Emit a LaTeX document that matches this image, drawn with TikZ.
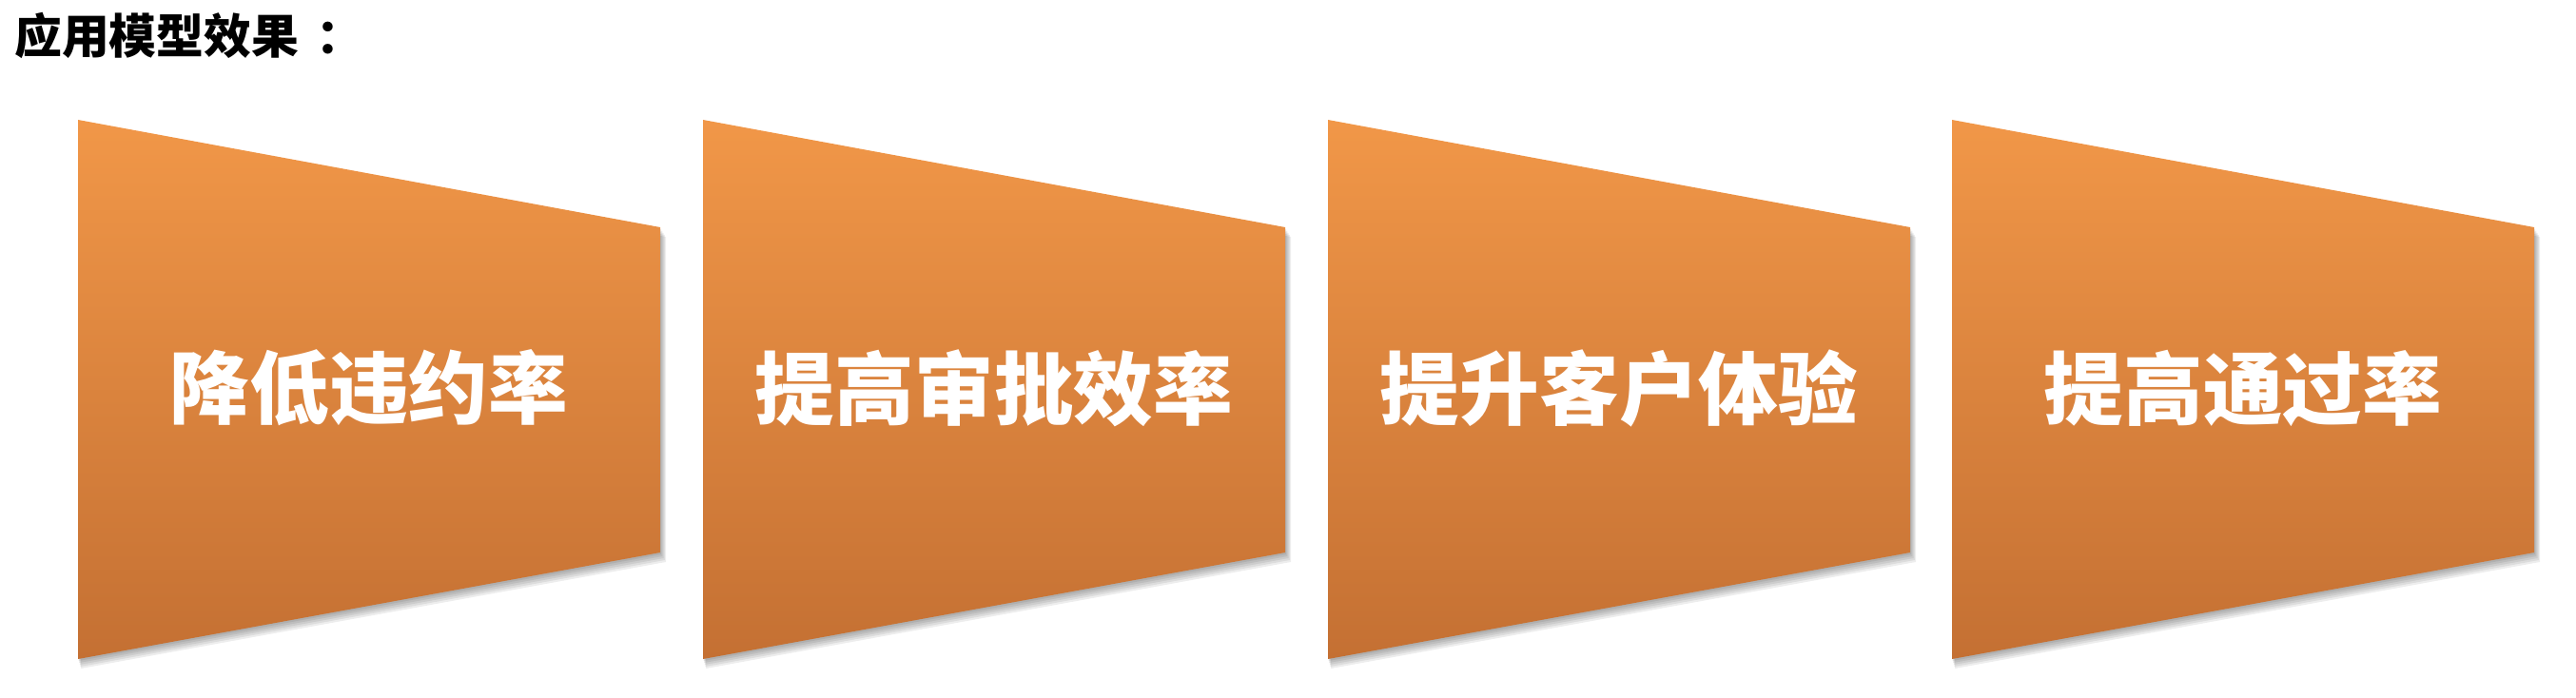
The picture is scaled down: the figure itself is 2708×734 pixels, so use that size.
\documentclass[tikz,border=0pt]{standalone}
\usepackage{fontspec}
\newfontfamily\cjk{Noto Sans CJK SC}
\usetikzlibrary{shadows}
\definecolor{orTop}{RGB}{241,151,72}
\definecolor{orBot}{RGB}{196,112,51}
\tikzset{
  panel/.style={top color=orTop, bottom color=orBot, draw=none},
  shade1/.style={fill=black, opacity=0.07, draw=none},
  paneltext/.style={text=white, font=\cjk\bfseries\fontsize{84}{90}\selectfont, inner sep=0pt, anchor=center},
  titletext/.style={text=black, font=\cjk\bfseries\fontsize{50}{56}\selectfont, inner sep=0pt, anchor=west}
}
\begin{document}
\begin{tikzpicture}[x=1bp,y=-1bp]
\useasboundingbox (0,0) rectangle (2708,734);
\fill[white] (0,0) rectangle (2708,734);
\node[titletext] (title) at (15,37.5) {应用模型效果\hspace{18bp}：};
\foreach \L/\nm/\txt in {82/p1/降低违约率, 739/p2/提高审批效率, 1396/p3/提升客户体验, 2052/p4/提高通过率}{
  \foreach \s in {2,4,6,8,10}{
    \fill[shade1] (\L+0.3*\s,126+\s) -- (\L+612+0.6*\s,239+\s) -- (\L+612+0.6*\s,581+\s) -- (\L+0.3*\s,693+\s) -- cycle;
  }
  \path[panel] (\L,126) -- (\L+612,239) -- (\L+612,581) -- (\L,693) -- cycle;
  \node[paneltext] (\nm) at (\L+306,408) {\txt};
}
\end{tikzpicture}
\end{document}
